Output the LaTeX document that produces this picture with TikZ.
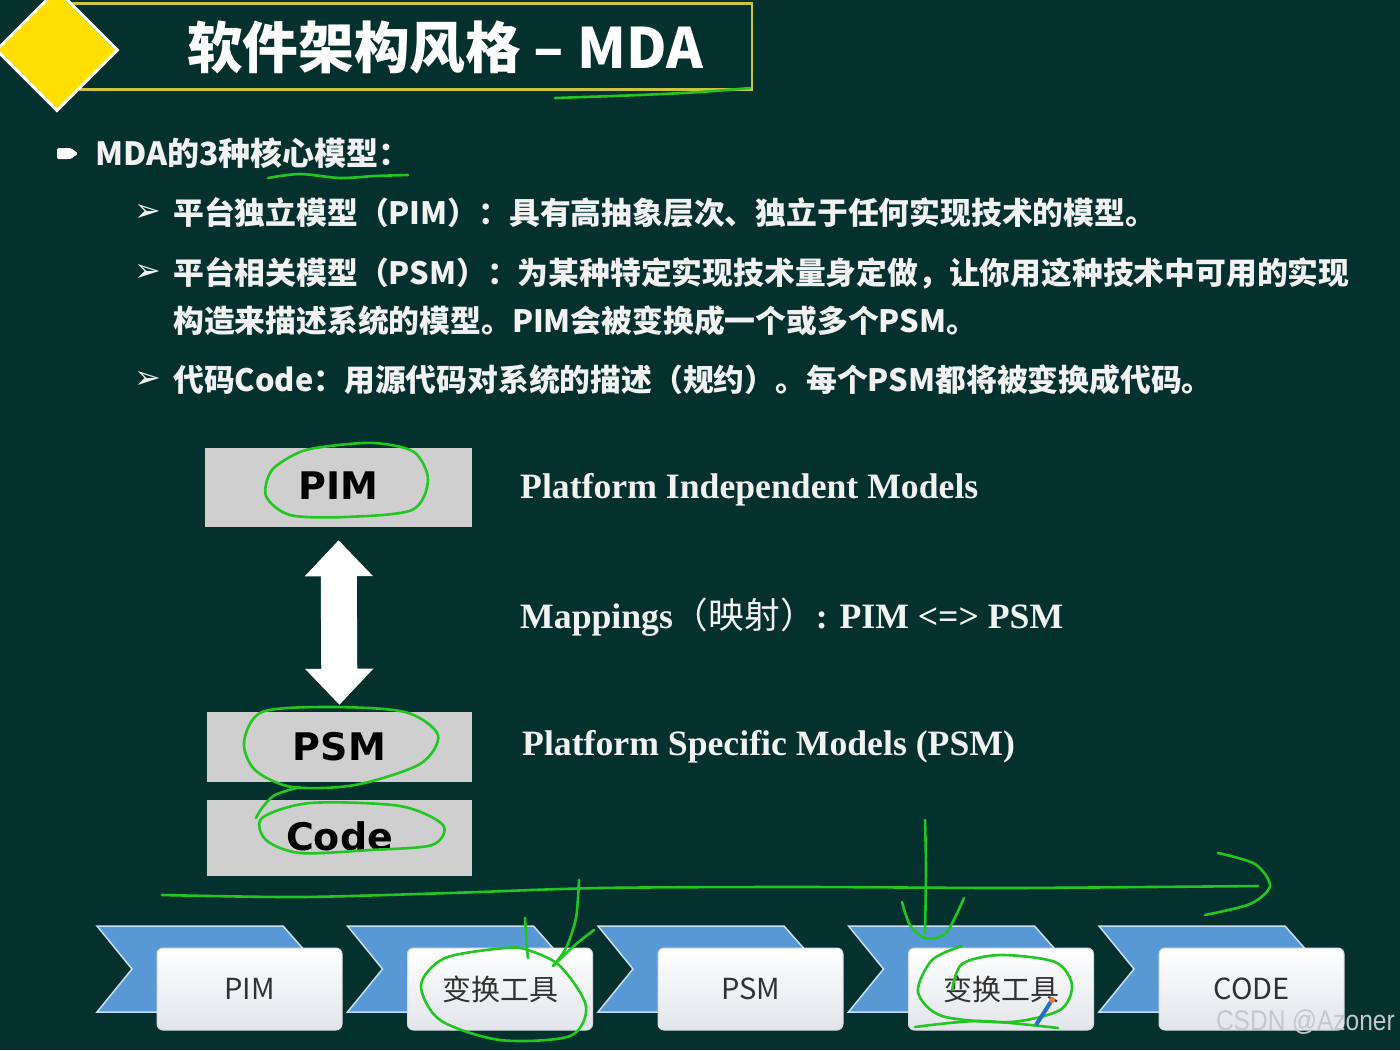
\documentclass[tikz,border=0pt]{standalone}
\usepackage{fontspec}
\usepackage{graphicx}
\setmainfont{Liberation Serif}
\newfontfamily\cjk{Noto Sans CJK SC}
\newfontfamily\dvs{DejaVu Sans}
\newfontfamily\lsans{Liberation Sans}
\usetikzlibrary{arrows.meta,shapes.geometric}
\definecolor{bg}{RGB}{4,49,45}
\definecolor{ttl}{RGB}{205,195,60}
\definecolor{dia}{RGB}{255,222,0}
\definecolor{gbox}{RGB}{207,207,207}
\definecolor{chev}{RGB}{88,152,212}
\definecolor{chevl}{RGB}{200,222,242}
\definecolor{ann}{RGB}{34,197,34}
\definecolor{wtxt}{RGB}{242,242,242}
\definecolor{wbot}{RGB}{226,229,234}
\definecolor{wedge}{RGB}{215,220,226}
\definecolor{dtxt}{RGB}{50,50,50}
\definecolor{pencil}{RGB}{40,110,200}
\definecolor{eraser}{RGB}{235,120,60}
\definecolor{wmark}{RGB}{196,200,206}
\tikzset{
  greybox/.style={fill=gbox, inner sep=0, font=\dvs\bfseries\fontsize{38}{44}\selectfont, text=black},
  bullettxt/.style={anchor=west, inner sep=0, text=wtxt, font=\cjk\bfseries\fontsize{30.8}{36}\selectfont},
  marker/.style={anchor=west, inner sep=0, text=wtxt, font=\dvs\fontsize{32}{36}\selectfont},
  rtxt/.style={anchor=west, inner sep=0, text=wtxt, font=\bfseries\fontsize{35.7}{40}\selectfont},
  wbox/.style={rounded corners=6, top color=white, bottom color=wbot, draw=wedge, line width=1, minimum width=185, minimum height=82, inner sep=0, text=dtxt, font=\cjk\fontsize{29}{34}\selectfont},
  chevshape/.style={fill=chev, draw=chevl, line width=1.5},
  annot/.style={draw=ann, line width=2.6, line cap=round, line join=round}
}
\begin{document}
\begin{tikzpicture}[x=1pt,y=-1pt]
\useasboundingbox (0,0) rectangle (1400,1050);
\fill[bg] (0,0) rectangle (1400,1050);

% title
\node[draw=ttl, line width=2.5, minimum width=679, minimum height=86, inner sep=0] (tbox) at (412.5,46.5) {};
\node[diamond, fill=dia, draw=white, line width=3, minimum width=122, minimum height=122, inner sep=0] (dmd) at (57,50) {};
\node[inner sep=0, text=white, font=\cjk\bfseries\fontsize{55.7}{60}\selectfont] (title) at (445,47) {软件架构风格 – MDA};
\draw[annot] plot[smooth] coordinates {(555,98) (640,95) (700,92) (750,88)};

% bullets
\fill[white, rounded corners=1.5] (57,148) -- (71,148) -- (78,153.5) -- (71,159) -- (57,159) -- cycle;
\node[bullettxt, font=\cjk\bfseries\fontsize{32}{38}\selectfont] (b0) at (95,153) {MDA的3种核心模型：};
\draw[annot] plot[smooth] coordinates {(268,178) (300,174) (340,178) (375,176) (408,175)};

\node[marker] (m1) at (134,213) {➢};
\node[marker] (m2) at (134,273) {➢};
\node[marker] (m3) at (134,380) {➢};
\node[bullettxt] (l1) at (173,213) {平台独立模型（PIM）：具有高抽象层次、独立于任何实现技术的模型。};
\node[bullettxt] (l2) at (173,273) {平台相关模型（PSM）：为某种特定实现技术量身定做，让你用这种技术中可用的实现};
\node[bullettxt] (l3) at (173,321) {构造来描述系统的模型。PIM会被变换成一个或多个PSM。};
\node[bullettxt] (l4) at (173,380) {代码Code：用源代码对系统的描述（规约）。每个PSM都将被变换成代码。};

% stack
\node[greybox, minimum width=267, minimum height=79] (pim) at (338.5,487.5) {\raisebox{4pt}{PIM}};
\node[greybox, minimum width=265, minimum height=70] (psm) at (339.5,747) {PSM};
\node[greybox, minimum width=265, minimum height=76] (code) at (339.5,838) {\raisebox{4pt}{Code}};
\draw[white, line width=36, shorten <=13, shorten >=7, {Triangle[length=36pt,width=66pt]}-{Triangle[length=36pt,width=66pt]}] (pim.south) -- (psm.north);

\node[rtxt] (t1) at (520,490) {Platform Independent Models};
\node[rtxt] (t2) at (520,617) {Mappings{\cjk\mdseries（映射）}: PIM <=> PSM};
\node[rtxt] (t3) at (522,747) {Platform Specific Models (PSM)};

% annotations on stack
\draw[annot] plot[smooth cycle] coordinates {(300,452) (272,470) (266,496) (290,515) (345,517) (412,510) (428,480) (414,452) (375,443) (330,446)};
\draw[annot] plot[smooth cycle] coordinates {(262,712) (330,707) (405,712) (438,735) (420,764) (355,785) (292,787) (255,770) (244,742)};
\draw[annot] plot[smooth] coordinates {(300,787) (275,795) (262,808) (256,818)};
\draw[annot] plot[smooth cycle] coordinates {(262,818) (310,803) (400,806) (443,825) (432,845) (370,850) (300,853) (266,840)};

% process chevrons
\foreach \i/\lab in {1/PIM,2/变换工具,3/PSM,4/变换工具,5/CODE}{
  \pgfmathsetmacro{\X}{97+250.5*(\i-1)}
  \path[chevshape] (\X,926) -- (\X+186,926) -- (\X+224,969) -- (\X+186,1012) -- (\X,1012) -- (\X+35,969) -- cycle;
  \node[wbox] (p\i) at (\X+152.5,989) {\lab};
}

% annotations on process
\draw[annot] plot[smooth] coordinates {(162,895) (300,897) (450,893) (600,888) (800,887) (1000,888) (1150,887) (1258,886)};
\draw[annot] plot[smooth] coordinates {(1218,853) (1255,864) (1270,886) (1250,904) (1205,915)};
\draw[annot] plot[smooth] coordinates {(579,880) (576,918) (566,948) (553,966)};
\draw[annot] plot[smooth] coordinates {(525,918) (527,948) (528,958)};
\draw[annot] plot[smooth] coordinates {(594,930) (575,945) (553,966)};
\draw[annot] plot[smooth cycle] coordinates {(505,948) (445,958) (421,985) (440,1020) (500,1040) (570,1036) (586,1006) (560,966) (528,950)};
\draw[annot] plot[smooth] coordinates {(925,820) (926,870) (925,933)};
\draw[annot] plot[smooth] coordinates {(902,902) (910,925) (925,938) (946,933) (964,898)};
\draw[annot] plot[smooth] coordinates {(962,946) (932,960) (918,992) (942,1016) (1010,1022) (1060,1010) (1072,985) (1055,962) (1000,955) (962,964) (952,990)};
\draw[annot] plot[smooth] coordinates {(915,1027) (980,1021) (1058,1028)};
% pencil cursor
\draw[line width=4, pencil] (1052,1000) -- (1036,1025);
\fill[eraser] (1052,1000) circle (3);

% watermark
\node[anchor=east, inner sep=0, text=wmark, font=\lsans\fontsize{28.5}{32}\selectfont] (wm) at (1395,1022) {\scalebox{0.86}[1]{CSDN @Azoner}};
\end{tikzpicture}
\end{document}
